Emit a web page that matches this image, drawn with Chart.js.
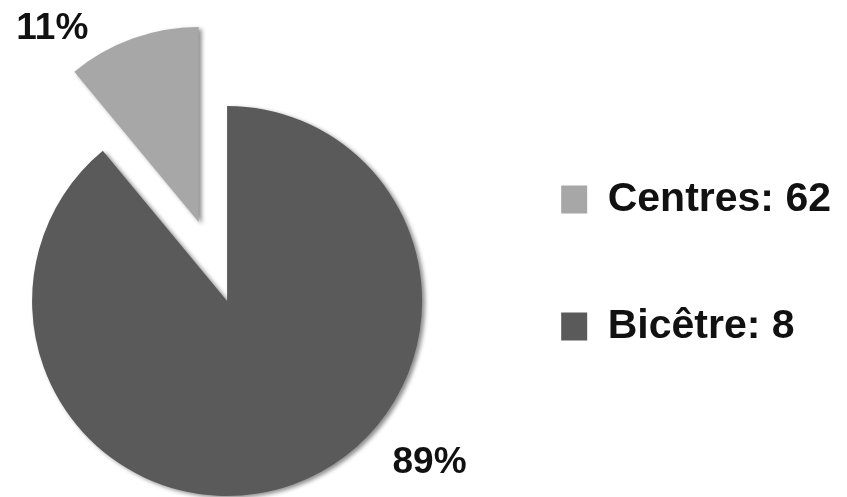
<!DOCTYPE html>
<html>
<head>
<meta charset="utf-8">
<script src="https://cdn.jsdelivr.net/npm/chart.js@4/dist/chart.umd.min.js"></script>
<style>
    html, body { margin: 0; padding: 0; background: #fff; }
    #wrap { width: 847px; height: 497px; overflow: hidden; position: relative; }
    #chart { position: absolute; left: -21px; top: 0; }
</style>
</head>
<body>
<div id="wrap"><canvas id="chart" width="870" height="509"></canvas></div>
<script>
    /* DATA */
    var categories = ['Centres', 'Bicêtre'];
    var counts = [62, 8];          // numbers printed in the legend
    var shares = [11, 89];         // slice percentages as drawn
    var colors = ['#a7a7a7', '#5a5a5a'];

    /* PLUGINS */

    // pull slices out along their bisector without growing their radius
    var explode = {
        id: 'explode',
        afterDatasetsUpdate: (chart, args, opts) => {
            chart.getDatasetMeta(0).data.forEach((arc, i) => {
                var d = opts.distance[i] || 0;
                var mid = (arc.startAngle + arc.endAngle) / 2;
                arc.x += Math.cos(mid) * d;
                arc.y += Math.sin(mid) * d;
            });
        }
    };

    // soft drop shadow under the slices
    var sliceShadow = {
        id: 'sliceShadow',
        beforeDatasetsDraw: (chart) => {
            var ctx = chart.ctx;
            ctx.save();
            ctx.shadowColor = 'rgba(0,0,0,0.45)';
            ctx.shadowBlur = 4;
            ctx.shadowOffsetX = 3;
            ctx.shadowOffsetY = 2;
        },
        afterDatasetsDraw: (chart) => {
            chart.ctx.restore();
        }
    };

    // percentage text outside each slice
    var pctLabels = {
        id: 'pctLabels',
        afterDatasetsDraw: (chart, args, opts) => {
            var ctx = chart.ctx;
            ctx.save();
            ctx.font = opts.font;
            ctx.fillStyle = opts.color;
            ctx.textAlign = 'center';
            ctx.textBaseline = 'middle';
            chart.getDatasetMeta(0).data.forEach((arc, i) => {
                var a = opts.angles[i] * Math.PI / 180;
                var d = arc.outerRadius + opts.gaps[i];
                ctx.fillText(shares[i] + '%', arc.x + Math.cos(a) * d, arc.y + Math.sin(a) * d);
            });
            ctx.restore();
        }
    };

    var chart = new Chart(document.getElementById('chart'), {
        type: 'pie',
        data: {
            labels: categories.map((c, i) => c + ': ' + counts[i]),
            datasets: [{
                data: shares,
                backgroundColor: colors,
                borderWidth: 0
            }]
        },
        options: {
            responsive: false,
            animation: false,
            rotation: -360 * shares[0] / 100,
            radius: 195,
            layout: { padding: { left: 0, right: 8, top: 93, bottom: 0 } },
            plugins: {
                tooltip: { enabled: false },
                legend: {
                    position: 'right',
                    align: 'start',
                    labels: {
                        boxWidth: 26,
                        boxHeight: 28,
                        padding: 86,
                        color: '#111',
                        font: { family: 'Liberation Sans', size: 41, weight: 'bold' }
                    }
                },
                explode: { distance: [84, 0] },
                pctLabels: {
                    font: 'bold 37px "Liberation Sans"',
                    color: '#111',
                    angles: [232.8, 38.6],
                    gaps: [47, 64]
                }
            }
        },
        plugins: [explode, sliceShadow, pctLabels]
    });
</script>
</body>
</html>
